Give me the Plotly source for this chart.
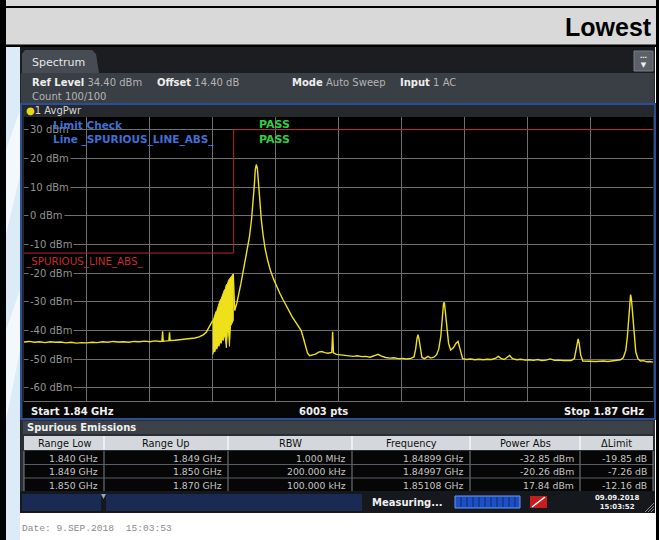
import plotly.graph_objects as go

# ---------------- data ----------------
freq_mhz = [1840.00, 1840.25, 1840.50, 1840.75, 1841.00, 1841.25, 1841.50, 1841.75, 1842.00, 1842.25,
            1842.50, 1842.75, 1843.00, 1843.25, 1843.50, 1843.75, 1844.00, 1844.25, 1844.50, 1844.75,
            1845.00, 1845.25, 1845.50, 1845.75, 1846.00, 1846.25, 1846.50, 1846.58, 1846.61, 1846.64,
            1846.80, 1846.91, 1846.94, 1846.97, 1847.20, 1847.45, 1847.70, 1847.95, 1848.15, 1848.35,
            1848.55, 1848.70, 1848.82, 1848.92, 1849.00]
level_dbm = [-44.0, -43.8, -44.1, -43.9, -44.2, -43.9, -44.1, -44.0, -44.3, -44.1,
             -44.4, -44.2, -44.3, -44.1, -44.2, -43.9, -44.1, -43.8, -44.0, -43.9,
             -44.1, -43.8, -43.9, -43.7, -43.9, -43.6, -43.8, -43.7, -40.3, -43.7,
             -43.6, -43.5, -40.6, -43.5, -43.4, -43.2, -43.0, -42.8, -42.6, -42.2,
             -41.5, -40.5, -38.8, -37.5, -36.5]

# noisy burst just below the carrier (drawn as a filled band between two read envelopes)
burst_freq = [1849.00, 1849.05, 1849.10, 1849.15, 1849.20, 1849.25, 1849.30, 1849.35, 1849.40, 1849.45,
              1849.50, 1849.55, 1849.60, 1849.65, 1849.70, 1849.75, 1849.80, 1849.85, 1849.90, 1849.95, 1849.98]
burst_upper = [-37.0, -35.5, -35.0, -33.5, -33.0, -31.5, -31.0, -29.5, -29.0, -27.5,
               -27.0, -26.0, -25.5, -24.0, -24.0, -22.5, -22.0, -21.5, -21.0, -20.5, -20.3]
burst_lower = [-48.4, -47.0, -47.5, -46.0, -46.5, -45.0, -45.5, -44.0, -44.5, -43.0,
               -43.5, -42.0, -42.5, -46.0, -41.0, -40.0, -45.5, -38.5, -38.0, -37.0, -36.5]

freq2_mhz = [1849.98, 1850.05, 1850.15, 1850.25, 1850.35, 1850.45, 1850.55, 1850.65, 1850.75, 1850.85,
             1850.93, 1850.99, 1851.03, 1851.08, 1851.13, 1851.18, 1851.24, 1851.32, 1851.40, 1851.50,
             1851.62, 1851.75, 1851.90, 1852.05, 1852.20, 1852.35, 1852.50, 1852.65, 1852.80, 1852.95,
             1853.10, 1853.22, 1853.32, 1853.42, 1853.52, 1853.62, 1853.75, 1853.90, 1854.05, 1854.20,
             1854.35, 1854.50, 1854.68, 1854.72, 1854.76, 1854.90, 1855.10, 1855.30, 1855.50, 1855.70,
             1855.90, 1856.10, 1856.30, 1856.50, 1856.70, 1856.88, 1857.05, 1857.25, 1857.45, 1857.65,
             1857.85, 1858.05, 1858.25, 1858.45, 1858.60, 1858.68, 1858.74, 1858.79, 1858.84, 1858.90,
             1858.98, 1859.10, 1859.27, 1859.40, 1859.55, 1859.68, 1859.78, 1859.88, 1859.95, 1860.01,
             1860.05, 1860.10, 1860.17, 1860.25, 1860.35, 1860.48, 1860.60, 1860.70, 1860.80, 1860.92,
             1861.10, 1861.30, 1861.50, 1861.70, 1861.90, 1862.10, 1862.30, 1862.50, 1862.62, 1862.75,
             1862.90, 1863.05, 1863.16, 1863.30, 1863.50, 1863.70, 1863.90, 1864.10, 1864.30, 1864.50,
             1864.70, 1864.90, 1865.10, 1865.30, 1865.50, 1865.70, 1865.90, 1866.10, 1866.25, 1866.33,
             1866.39, 1866.43, 1866.48, 1866.55, 1866.65, 1866.85, 1867.05, 1867.25, 1867.45, 1867.65,
             1867.85, 1868.05, 1868.25, 1868.45, 1868.58, 1868.70, 1868.78, 1868.85, 1868.90, 1868.93,
             1868.97, 1869.03, 1869.10, 1869.18, 1869.28, 1869.40, 1869.55, 1869.70, 1869.85, 1870.00]
level2_dbm = [-20.3, -33.0, -30.5, -27.5, -23.5, -19.5, -15.5, -12.0, -7.5, -1.5,
              5.0, 11.0, 16.0, 17.84, 16.5, 11.0, 5.0, -1.5, -6.5, -11.5,
              -15.5, -19.0, -22.0, -24.8, -27.0, -29.2, -31.4, -33.3, -35.3, -37.0,
              -38.5, -40.0, -42.5, -45.5, -47.8, -48.8, -48.6, -48.2, -47.5, -47.3,
              -47.7, -47.9, -47.6, -40.4, -47.8, -48.3, -48.5, -48.7, -48.9, -49.0,
              -48.8, -49.1, -49.0, -49.3, -48.8, -48.3, -48.9, -49.4, -49.6, -49.5,
              -49.8, -49.7, -49.9, -49.7, -49.2, -46.5, -43.0, -41.4, -43.0, -46.5,
              -49.4, -49.8, -49.0, -49.6, -49.3, -48.4, -46.5, -42.0, -36.0, -30.5,
              -30.2, -33.5, -39.5, -44.5, -46.8, -46.0, -44.5, -43.8, -46.5, -49.8,
              -50.1, -49.9, -50.2, -50.0, -50.2, -50.0, -50.1, -49.6, -49.0, -49.7,
              -50.1, -49.3, -48.7, -49.8, -50.2, -50.0, -50.3, -50.2, -50.4, -50.1,
              -50.5, -50.3, -49.9, -50.4, -50.3, -50.5, -50.4, -50.5, -49.8, -46.5,
              -43.4, -42.9, -44.5, -48.5, -50.6, -50.7, -50.6, -50.8, -50.7, -50.6,
              -50.8, -50.6, -50.5, -50.2, -49.5, -47.0, -42.0, -34.0, -28.5, -27.5,
              -29.0, -34.5, -42.0, -47.5, -49.8, -50.6, -50.5, -50.9, -50.8, -51.0]

limit_freq = [1840.0, 1850.0, 1850.0, 1870.0]
limit_dbm = [-13.0, -13.0, 30.0, 30.0]

ytick_vals = [30, 20, 10, 0, -10, -20, -30, -40, -50, -60]
xgrid_vals = [1840, 1843, 1846, 1849, 1852, 1855, 1858, 1861, 1864, 1867, 1870]

tbl_headers = ["Range Low", "Range Up", "RBW", "Frequency", "Power Abs", "\u0394Limit"]
range_low = ["1.840 GHz", "1.849 GHz", "1.850 GHz"]
range_up = ["1.849 GHz", "1.850 GHz", "1.870 GHz"]
rbw = ["1.000 MHz", "200.000 kHz", "100.000 kHz"]
peak_freq = ["1.84899 GHz", "1.84997 GHz", "1.85108 GHz"]
power_abs = ["-32.85 dBm", "-20.26 dBm", "17.84 dBm"]
delta_limit = ["-19.85 dB", "-7.26 dB", "-12.16 dB"]

# ---------------- layout helpers ----------------
W, H = 659, 540
def px(x): return x / W
def py(y): return 1 - y / H

YEL = "#efe01c"
RED = "#b8262a"
UI = "DejaVu Sans"

fig = go.Figure()
fig.add_trace(go.Scatter(x=limit_freq, y=limit_dbm, mode="lines",
                         line=dict(color=RED, width=1), hoverinfo="skip"))
fig.add_trace(go.Scatter(x=burst_freq + burst_freq[::-1], y=burst_upper + burst_lower[::-1],
                         mode="lines", fill="toself", fillcolor=YEL,
                         line=dict(color=YEL, width=1), hoverinfo="skip"))
fig.add_trace(go.Scatter(x=freq_mhz, y=level_dbm, mode="lines",
                         line=dict(color=YEL, width=1.4), hoverinfo="skip"))
fig.add_trace(go.Scatter(x=freq2_mhz, y=level2_dbm, mode="lines",
                         line=dict(color=YEL, width=1.4), hoverinfo="skip"))

shapes = []
def rect(x0, y0, x1, y1, fill, line=None, lw=0, layer="below"):
    shapes.append(dict(type="rect", xref="paper", yref="paper",
                       x0=px(x0), x1=px(x1), y0=py(y1), y1=py(y0),
                       fillcolor=fill, line=dict(color=line or fill, width=lw), layer=layer))
def hline(x0, x1, y, color, w=1, layer="below"):
    shapes.append(dict(type="line", xref="paper", yref="paper", x0=px(x0), x1=px(x1),
                       y0=py(y), y1=py(y), line=dict(color=color, width=w), layer=layer))
def vline(x, y0, y1, color, w=1, layer="below"):
    shapes.append(dict(type="line", xref="paper", yref="paper", x0=px(x), x1=px(x),
                       y0=py(y0), y1=py(y1), line=dict(color=color, width=w), layer=layer))
def poly(pts, fill, layer="below"):
    d = "M" + " L".join(f"{px(a):.5f},{py(b):.5f}" for a, b in pts) + " Z"
    shapes.append(dict(type="path", xref="paper", yref="paper", path=d,
                       fillcolor=fill, line=dict(width=0), layer=layer))

# page frame
rect(0, 0, 659, 47, "#d9d9d9")
rect(0, 6, 659, 8, "#000000")
rect(0, 44.5, 659, 47, "#000000")
rect(0, 0, 6, 540, "#000000")
rect(656, 0, 659, 540, "#000000")
rect(6, 47, 20, 540, "#dcebf8")
poly([(6, 150), (20, 110), (20, 175), (6, 235)], "#f3f8fd")
poly([(6, 330), (20, 290), (20, 350), (6, 420)], "#f3f8fd")
# screenshot body
rect(20, 47, 655, 513, "#222529")
rect(20, 47, 655, 73, "#1b1d21")
poly([(22, 73), (22, 54), (25, 50), (92, 50), (96, 54), (99, 73)], "#474c54")
rect(634, 51, 653, 71, "#5c6169", "#7a7f87", 1)
rect(21, 73, 654, 104, "#3a3e45")
rect(21, 104, 655, 419, "rgba(0,0,0,0)", "#2d4d98", 2)
rect(22, 105, 654, 117, "#25282d")
rect(24, 117, 653, 404, "#000000")
# start/stop bar over the bottom of the diagram
rect(23, 402, 654, 418, "#050505", layer="above")
hline(24, 653, 401.5, "#6e6e6e", 1, layer="above")
# spurious table area
rect(21, 420, 655, 491, "#2a2e34")
rect(23, 421, 653, 434, "#3d4249")
cols = [24, 104, 228, 352, 470, 580, 653]
rect(24, 436, 653, 450, "#d4d8dc")
rect(24, 451, 653, 491, "#060606")
for c in cols[1:-1]:
    vline(c, 436, 450, "#f4f6f8", 1.5)
    vline(c, 451, 491, "#7c8188", 1)
for r in [464.5, 478]:
    hline(24, 653, r, "#5a5e64", 1)
vline(24, 451, 491, "#7c8188", 1)
vline(653, 451, 491, "#7c8188", 1)
# status bar
rect(20, 491, 655, 513, "#15181c")
rect(22, 494, 101, 511, "#1b2a52")
rect(106, 494, 362, 511, "#1b2a52")
poly([(101, 494), (106, 494), (103.5, 499)], "#9aa6c0")
rect(455, 496, 520, 508, "#1d4fc4", "#6a98f2", 1)
for sx in range(461, 519, 6):
    vline(sx, 497, 507, "#0e2a6e", 1)
rect(530, 496, 547, 508, "#c41e1e")
shapes.append(dict(type="line", xref="paper", yref="paper", x0=px(532), x1=px(545),
                   y0=py(507), y1=py(497), line=dict(color="#ffffff", width=1.5)))
for k in range(3):
    shapes.append(dict(type="line", xref="paper", yref="paper", x0=px(645 + 3 * k), x1=px(654),
                       y0=py(512), y1=py(503 + 3 * k), line=dict(color="#8a8a8a", width=1)))

annotations = []
def txt(x, y, s, size=10, color="#dcdcdc", anchor="left", family=UI, yanchor="middle", **kw):
    annotations.append(dict(x=px(x), y=py(y), xref="paper", yref="paper", text=s, showarrow=False,
                            xanchor=anchor, yanchor=yanchor,
                            font=dict(family=family, size=size, color=color), **kw))

txt(654, 27, "<b>Lowest</b>", 25, "#000000", "right", "Liberation Sans")
txt(30, 62, "Spectrum", 11, "#e6e6e6")
txt(643.5, 61, "<b>\u2026</b><br>\u25BC", 7, "#f0f0f0", "center")
g = "#b4b4b4"
txt(30, 83, f"<b>Ref Level</b> <span style='color:{g}'>34.40 dBm</span>", 10, "#eeeeee")
txt(155, 83, f"<b>Offset</b> <span style='color:{g}'>14.40 dB</span>", 10, "#eeeeee")
txt(290, 83, f"<b>Mode</b> <span style='color:{g}'>Auto Sweep</span>", 10, "#eeeeee")
txt(398, 83, f"<b>Input</b> <span style='color:{g}'>1 AC</span>", 10, "#eeeeee")
txt(30, 97, "Count 100/100", 10, g)
txt(24, 111, "<span style='color:#e8d81a'>\u25CF</span>1 AvgPwr", 10, "#d6d6d6")

for v in ytick_vals:
    annotations.append(dict(x=px(28), y=v, xref="paper", yref="y", text=f"{v} dBm", showarrow=False,
                            xanchor="left", yanchor="middle", bgcolor="#000000", borderpad=1,
                            font=dict(family=UI, size=10, color="#939393")))

txt(51, 124.5, "<b>Limit Check</b>", 10.5, "#3f6fd6")
txt(51, 139, "<b>Line _SPURIOUS_LINE_ABS_</b>", 10.5, "#3f6fd6")
txt(274.5, 124.5, "<b>PASS</b>", 11, "#2fcf3f", "center")
txt(274.5, 139, "<b>PASS</b>", 11, "#2fcf3f", "center")
txt(23, 261, "_SPURIOUS_LINE_ABS_", 10.3, "#c42c2c")

txt(29, 411, "<b>Start 1.84 GHz</b>", 10, "#f0f0f0")
txt(323, 411, "<b>6003 pts</b>", 10, "#f0f0f0", "center")
txt(646, 411, "<b>Stop 1.87 GHz</b>", 10, "#f0f0f0", "right")
txt(25, 427.5, "<b>Spurious Emissions</b>", 10, "#f0f0f0")

for i, hname in enumerate(tbl_headers):
    txt((cols[i] + cols[i + 1]) / 2, 443, hname, 9.8, "#101010", "center")
table_cols = [range_low, range_up, rbw, peak_freq, power_abs, delta_limit]
for ci, colvals in enumerate(table_cols):
    for ri, val in enumerate(colvals):
        txt(cols[ci + 1] - 4, 458 + ri * 13.5, val, 9.3, "#c4c4c4", "right")

txt(407, 502.5, "<b>Measuring...</b>", 10, "#f0f0f0", "center")
txt(617, 502.5, "<b>09.09.2018<br>15:03:52</b>", 7, "#f0f0f0", "center")
txt(20, 528, "Date: 9.SEP.2018  15:03:53", 9.6, "#8a8a8a", family="Liberation Mono")

fig.update_layout(
    width=W, height=H, margin=dict(l=0, r=0, t=0, b=0),
    paper_bgcolor="#ffffff", plot_bgcolor="#000000", showlegend=False,
    shapes=shapes, annotations=annotations,
    xaxis=dict(domain=[px(24), px(653)], range=[1840, 1870], tickvals=xgrid_vals,
               showticklabels=False, ticks="", showgrid=True, gridcolor="#6e6e6e", gridwidth=1,
               zeroline=False, showline=False, fixedrange=True),
    yaxis=dict(domain=[py(404), py(117)], range=[-65.6, 34.4], tickvals=ytick_vals,
               showticklabels=False, ticks="", showgrid=True, gridcolor="#6e6e6e", gridwidth=1,
               zeroline=False, showline=False, fixedrange=True),
)
fig.write_html("out.html", config={"displayModeBar": False},
               post_script="document.body.style.margin='0';document.body.style.overflow='hidden';")
